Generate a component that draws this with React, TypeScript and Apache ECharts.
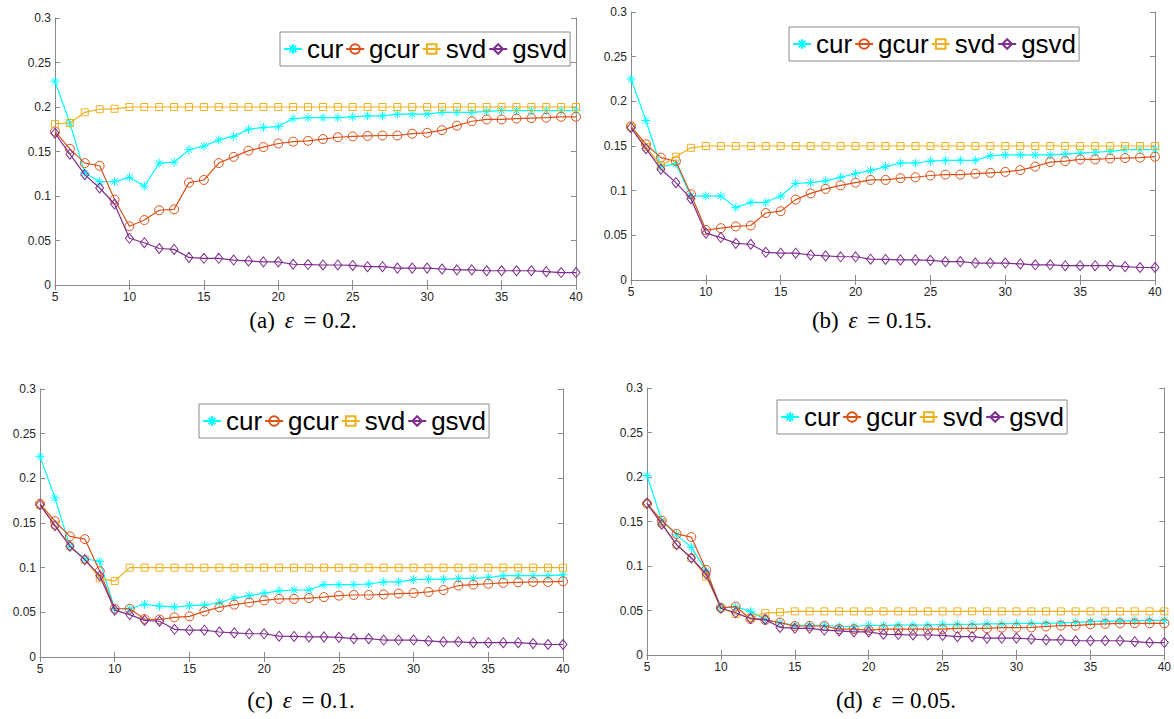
import React, { useEffect, useRef } from "react";
import * as echarts from "echarts";

const xs = [5, 6, 7, 8, 9, 10, 11, 12, 13, 14, 15, 16, 17, 18, 19, 20, 21, 22, 23, 24, 25, 26, 27, 28, 29, 30, 31, 32, 33, 34, 35, 36, 37, 38, 39, 40];
const seriesNames = ["cur", "gcur", "svd", "gsvd"];
const captions = ["(a)", "(b)", "(c)", "(d)"];
const epsilons = ["0.2", "0.15", "0.1", "0.05"];

const gsvd = [0.1705, 0.147, 0.124, 0.109, 0.091, 0.0525, 0.0475, 0.041, 0.04, 0.031, 0.03, 0.03, 0.028, 0.027, 0.026, 0.026, 0.0233, 0.023, 0.0225, 0.0225, 0.022, 0.0206, 0.0206, 0.019, 0.019, 0.019, 0.018, 0.017, 0.017, 0.016, 0.016, 0.016, 0.016, 0.015, 0.014, 0.014];

const curA = [0.229, 0.182, 0.126, 0.116, 0.116, 0.121, 0.111, 0.137, 0.138, 0.152, 0.156, 0.163, 0.167, 0.175, 0.177, 0.178, 0.187, 0.188, 0.188, 0.188, 0.189, 0.19, 0.19, 0.192, 0.192, 0.192, 0.194, 0.194, 0.194, 0.195, 0.196, 0.196, 0.196, 0.196, 0.196, 0.196];
const gcurA = [0.1725, 0.153, 0.137, 0.134, 0.096, 0.066, 0.073, 0.084, 0.085, 0.115, 0.118, 0.137, 0.144, 0.151, 0.155, 0.159, 0.161, 0.162, 0.164, 0.166, 0.167, 0.1675, 0.168, 0.168, 0.17, 0.171, 0.174, 0.179, 0.184, 0.186, 0.186, 0.187, 0.1875, 0.188, 0.189, 0.189];
const svdA = [0.181, 0.182, 0.194, 0.1975, 0.198, 0.2, 0.2, 0.2, 0.2, 0.2, 0.2, 0.2, 0.2, 0.2, 0.2, 0.2, 0.2, 0.2, 0.2, 0.2, 0.2, 0.2, 0.2, 0.2, 0.2, 0.2, 0.2, 0.2, 0.2, 0.2, 0.2, 0.2, 0.2, 0.2, 0.2, 0.2];

const curB = [0.225, 0.1785, 0.127, 0.13, 0.094, 0.094, 0.094, 0.081, 0.087, 0.087, 0.094, 0.108, 0.109, 0.111, 0.115, 0.119, 0.1225, 0.127, 0.131, 0.131, 0.133, 0.134, 0.134, 0.134, 0.139, 0.14, 0.14, 0.14, 0.14, 0.141, 0.142, 0.143, 0.144, 0.146, 0.146, 0.146];
const gcurB = [0.172, 0.152, 0.137, 0.133, 0.096, 0.056, 0.058, 0.06, 0.061, 0.075, 0.077, 0.09, 0.097, 0.102, 0.106, 0.109, 0.112, 0.112, 0.114, 0.115, 0.117, 0.118, 0.118, 0.119, 0.12, 0.121, 0.123, 0.127, 0.132, 0.133, 0.135, 0.135, 0.136, 0.1365, 0.137, 0.138];
const svdB = [0.171, 0.149, 0.128, 0.138, 0.148, 0.15, 0.15, 0.15, 0.15, 0.15, 0.15, 0.15, 0.15, 0.15, 0.15, 0.15, 0.15, 0.15, 0.15, 0.15, 0.15, 0.15, 0.15, 0.15, 0.15, 0.15, 0.15, 0.15, 0.15, 0.15, 0.15, 0.15, 0.15, 0.15, 0.15, 0.15];

const curC = [0.2246, 0.178, 0.124, 0.11, 0.107, 0.054, 0.054, 0.059, 0.057, 0.056, 0.0575, 0.058, 0.061, 0.066, 0.0687, 0.0716, 0.074, 0.075, 0.075, 0.081, 0.081, 0.081, 0.0817, 0.084, 0.084, 0.0866, 0.087, 0.087, 0.088, 0.088, 0.089, 0.091, 0.091, 0.091, 0.091, 0.092];
const gcurC = [0.1716, 0.152, 0.135, 0.132, 0.096, 0.054, 0.054, 0.0425, 0.042, 0.0444, 0.0455, 0.051, 0.0556, 0.0586, 0.061, 0.0634, 0.065, 0.065, 0.066, 0.067, 0.0687, 0.0694, 0.0694, 0.07, 0.071, 0.0716, 0.0728, 0.075, 0.08, 0.081, 0.082, 0.083, 0.0836, 0.084, 0.084, 0.0847];
const svdC = [0.17, 0.148, 0.124, 0.109, 0.088, 0.085, 0.1, 0.1, 0.1, 0.1, 0.1, 0.1, 0.1, 0.1, 0.1, 0.1, 0.1, 0.1, 0.1, 0.1, 0.1, 0.1, 0.1, 0.1, 0.1, 0.1, 0.1, 0.1, 0.1, 0.1, 0.1, 0.1, 0.1, 0.1, 0.1, 0.1];

const curD = [0.2017, 0.151, 0.135, 0.121, 0.0945, 0.053, 0.054, 0.049, 0.04, 0.036, 0.0334, 0.0334, 0.0334, 0.032, 0.032, 0.0334, 0.033, 0.0337, 0.0337, 0.0337, 0.0345, 0.0345, 0.0345, 0.035, 0.035, 0.0356, 0.0356, 0.0356, 0.036, 0.0367, 0.0375, 0.038, 0.038, 0.0386, 0.039, 0.039];
const gcurD = [0.17, 0.151, 0.136, 0.1325, 0.0956, 0.053, 0.0544, 0.0405, 0.0394, 0.0364, 0.0326, 0.0326, 0.0326, 0.029, 0.029, 0.028, 0.029, 0.029, 0.029, 0.029, 0.029, 0.03, 0.03, 0.03, 0.0307, 0.0307, 0.031, 0.032, 0.033, 0.033, 0.0345, 0.035, 0.0356, 0.0356, 0.0356, 0.0356];
const svdD = [0.17, 0.148, 0.124, 0.109, 0.088, 0.053, 0.046, 0.042, 0.047, 0.048, 0.049, 0.049, 0.049, 0.049, 0.049, 0.049, 0.049, 0.049, 0.049, 0.049, 0.049, 0.049, 0.049, 0.049, 0.049, 0.049, 0.049, 0.049, 0.049, 0.049, 0.049, 0.049, 0.049, 0.049, 0.049, 0.049];

const panelData = [
  [curA, gcurA, svdA, gsvd],
  [curB, gcurB, svdB, gsvd],
  [curC, gcurC, svdC, gsvd],
  [curD, gcurD, svdD, gsvd],
];

const colors = ["#00FFFF", "#D95319", "#EDB120", "#7E2F8E"];
const symbols = [
  "path://M5,0L5,10M0,5L10,5M1.5,1.5L8.5,8.5M8.5,1.5L1.5,8.5",
  "path://M10,5A5,5 0 1,1 0,5A5,5 0 1,1 10,5Z",
  "path://M0,0L10,0L10,10L0,10Z",
  "path://M5,0L10,5L5,10L0,5Z",
];
const symbolSizes: any[] = [9, 9, 7, [8, 10]];

const grids = [
  { left: 55, top: 18, width: 521, height: 267 },
  { left: 631, top: 12, width: 524, height: 268 },
  { left: 40, top: 389, width: 523, height: 268 },
  { left: 647, top: 388, width: 520, height: 267 },
];
const legendPos = [
  { left: 280, top: 32 },
  { left: 789, top: 27 },
  { left: 199, top: 404 },
  { left: 777, top: 400 },
];
const captionPos = [
  { x: 303, y: 320 },
  { x: 872, y: 320 },
  { x: 301, y: 700 },
  { x: 896, y: 700 },
];

const SANS = "'Liberation Sans', Arial, Helvetica, sans-serif";
const SERIF = "'Liberation Serif', 'Times New Roman', serif";

export default function App() {
  const ref = useRef<HTMLDivElement>(null);
  useEffect(() => {
    if (!ref.current) return;
    const chart = echarts.init(ref.current, undefined, { renderer: "svg" });
    const axisColor = "#8a8a8a";
    const labelColor = "#262626";
    const xAxis: any[] = [];
    const yAxis: any[] = [];
    grids.forEach((g, i) => {
      const xBase = {
        type: "value",
        gridIndex: i,
        min: 5,
        max: 40,
        interval: 5,
        splitLine: { show: false },
        axisLine: { show: true, lineStyle: { color: axisColor, width: 1 } },
        axisTick: { show: true, inside: true, length: 5, lineStyle: { color: axisColor } },
      };
      xAxis.push({
        ...xBase,
        position: "bottom",
        axisLabel: { show: true, color: labelColor, fontSize: 12, fontFamily: SANS, margin: 6 },
      });
      xAxis.push({ ...xBase, position: "top", axisLabel: { show: false } });
      const yBase = {
        type: "value",
        gridIndex: i,
        min: 0,
        max: 0.3,
        interval: 0.05,
        splitLine: { show: false },
        axisLine: { show: true, lineStyle: { color: axisColor, width: 1 } },
        axisTick: { show: true, inside: true, length: 5, lineStyle: { color: axisColor } },
      };
      yAxis.push({
        ...yBase,
        position: "left",
        axisLabel: { show: true, color: labelColor, fontSize: 12, fontFamily: SANS, margin: 4 },
      });
      yAxis.push({ ...yBase, position: "right", axisLabel: { show: false } });
    });

    const series: any[] = [];
    panelData.forEach((arrs, p) => {
      arrs.forEach((vals, k) => {
        series.push({
          type: "line",
          name: seriesNames[k],
          xAxisIndex: p * 2,
          yAxisIndex: p * 2,
          data: xs.map((x, i) => [x, vals[i]]),
          symbol: symbols[k],
          symbolSize: symbolSizes[k],
          showAllSymbol: true,
          itemStyle: { color: "transparent", borderColor: colors[k], borderWidth: 1 },
          lineStyle: { color: colors[k], width: 1.2 },
          emphasis: { disabled: true },
          z: 2 + k,
        });
      });
    });

    const legend = legendPos.map((lp) => ({
      left: lp.left,
      top: lp.top,
      orient: "horizontal",
      data: seriesNames,
      itemWidth: 18,
      itemHeight: 12,
      itemGap: 2,
      padding: [4, 3, 4, 3],
      borderColor: "#8a8a8a",
      borderWidth: 1,
      backgroundColor: "#ffffff",
      selectedMode: false,
      textStyle: { fontSize: 26, color: "#000", fontFamily: SANS },
    }));

    const graphic = captionPos.map((cp, i) => ({
      type: "text",
      x: cp.x,
      y: cp.y,
      style: {
        text: `{n|${captions[i]} }{e|ε}{n| = ${epsilons[i]}.}`,
        rich: {
          n: { fontFamily: SERIF, fontSize: 23, fill: "#000" },
          e: { fontFamily: SERIF, fontSize: 23, fontStyle: "italic", fill: "#000", padding: [0, 4, 0, 4] },
        },
        align: "center",
        verticalAlign: "middle",
      },
    }));

    chart.setOption({
      animation: false,
      backgroundColor: "#ffffff",
      grid: grids.map((g) => ({ ...g, containLabel: false })),
      xAxis,
      yAxis,
      legend,
      series,
      graphic,
    });
    return () => chart.dispose();
  }, []);
  return (
    <div
      ref={ref}
      style={{ position: "fixed", left: 0, top: 0, width: 1174, height: 719, background: "#fff" }}
    />
  );
}
